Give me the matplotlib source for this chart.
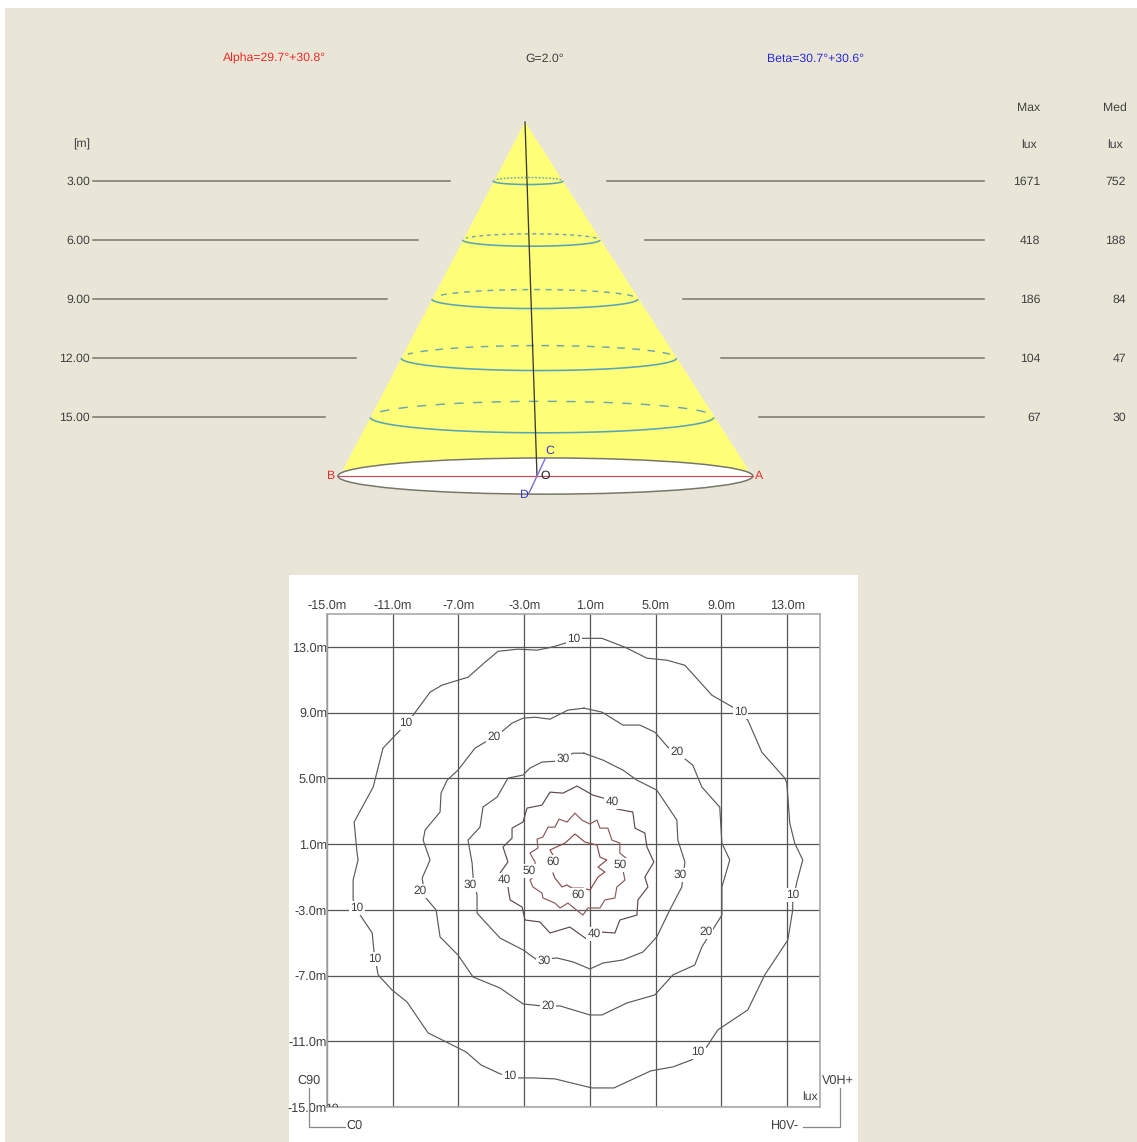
import numpy as np
import matplotlib
matplotlib.use("Agg")
import matplotlib.pyplot as plt
from matplotlib.patches import Rectangle, Polygon, Ellipse

plt.rcParams['font.family'] = ['Liberation Sans', 'DejaVu Sans']
plt.rcParams['text.hinting'] = 'no_hinting'

W, H = 1137, 1142
BG = '#e9e6d7'
TXT = '#404040'

# ---------- cone data (metres) ----------
distances = [3, 6, 9, 12, 15]
max_lux = [1671, 418, 186, 104, 67]
med_lux = [752, 188, 84, 47, 30]
cone_left = [-1.63, -3.17, -4.74, -6.30, -7.88]
cone_right = [1.93, 3.81, 5.74, 7.71, 9.61]
ring_depth = [0.178, 0.315, 0.483, 0.635, 0.80]
base_distance = 18.0
base_left = -9.51
base_right = 11.58
base_depth = 0.92
axis_foot = 0.61
title_alpha = 'Alpha=29.7°+30.8°'
title_g = 'G=2.0°'
title_beta = 'Beta=30.7°+30.6°'

# ---------- isolux data (metres) ----------
grid_ticks = [-15, -11, -7, -3, 1, 5, 9, 13]
x_tick_labels = ['-15.0m', '-11.0m', '-7.0m', '-3.0m', '1.0m', '5.0m', '9.0m', '13.0m']
y_tick_labels = x_tick_labels

c10_x = [-1.31, -2.22, -3.38, -4.59, -5.38, -6.42, -7.03, -8.0, -8.73, -9.76, -10.55, -11.59, -12.19, -13.35,
         -13.17, -13.11, -13.41, -13.41, -12.98, -12.25, -12.13, -11.89, -11.04, -10.13, -8.85, -7.03, -6.54,
         -5.63, -4.47, -3.50, -2.47, -1.13, 1.12, 2.46, 4.71, 6.05, 7.20, 8.11, 8.78, 10.61, 11.64, 13.04, 13.34,
         13.34, 13.59, 13.95, 13.46, 13.16, 12.98, 12.86, 11.46, 10.61, 9.69, 8.42, 6.78, 5.68, 4.47, 3.13, 1.73,
         0.70, 0.21, -0.34, -1.31]
c10_y = [12.98, 12.80, 12.86, 12.73, 12.07, 11.15, 10.97, 10.67, 10.24, 8.84, 7.93, 6.84, 4.47, 2.34,
         0.45, 0.03, -1.19, -2.40, -3.32, -4.41, -5.63, -6.96, -7.88, -8.61, -10.49, -11.40, -11.65,
         -12.44, -12.98, -13.23, -13.23, -13.29, -13.84, -13.84, -12.80, -12.56, -12.13, -11.34, -10.31, -9.09,
         -6.96, -4.84, -3.01, -2.53, -1.31, 0.03, 1.06, 2.28, 4.71, 5.01, 6.59, 8.54, 9.33, 10.06, 11.88, 12.19,
         12.31, 12.98, 13.52, 13.52, 13.52, 13.28, 12.98]
c20_x = [0.64, -0.34, -1.43, -2.34, -3.07, -3.74, -4.47, -5.38, -5.99, -7.03, -7.69, -8.06, -8.12, -9.03, -9.15,
         -8.73, -9.21, -9.03, -8.36, -8.12, -7.03, -6.11, -4.47, -3.07, -1.92, -0.82, 1.00, 1.73, 3.25, 4.95,
         6.05, 7.38, 7.81, 9.03, 9.03, 9.51, 9.03, 8.90, 7.81, 7.26, 6.65, 5.74, 4.95, 4.04, 3.01, 1.73, 0.64]
c20_y = [9.27, 9.15, 8.60, 8.72, 8.66, 8.36, 7.75, 7.20, 6.84, 5.50, 4.89, 4.10, 2.95, 1.85, 1.24,
         0.03, -1.07, -2.22, -3.01, -4.65, -5.75, -7.09, -7.76, -8.73, -8.85, -8.85, -9.40, -9.40, -8.67, -8.18,
         -6.96, -6.36, -5.26, -3.32, -1.61, 0.03, 1.06, 3.25, 4.47, 5.80, 6.29, 6.90, 7.81, 8.24, 8.24, 9.03, 9.27]
c30_x = [0.64, -0.03, -0.95, -1.92, -2.65, -3.07, -3.99, -4.65, -5.51, -5.69, -6.42, -6.17, -6.11, -5.87, -5.87,
         -4.47, -3.07, -2.22, -1.01, -0.03, 1.00, 1.79, 3.01, 4.22, 5.07, 5.86, 6.59, 6.78, 6.35, 6.29, 5.07,
         3.86, 3.01, 1.79, 0.64]
c30_y = [6.53, 6.53, 6.05, 5.99, 5.62, 5.20, 5.01, 3.86, 3.25, 2.03, 1.24, -0.16, -1.01, -2.10, -3.20,
         -4.72, -5.44, -6.05, -5.93, -6.17, -6.60, -6.24, -6.05, -5.57, -4.65, -3.01, -1.61, -0.09, 1.24, 2.46,
         4.28, 4.89, 5.50, 6.11, 6.53]
c40_x = [2.03, 1.18, 0.21, -0.64, -1.43, -1.92, -2.83, -3.07, -3.74, -3.74, -4.29, -3.99, -4.47, -3.99, -3.86,
         -3.13, -2.95, -2.04, -1.43, -0.22, 0.88, 1.61, 2.52, 2.82, 3.86, 3.92, 4.53, 4.34, 4.89, 4.47, 4.34,
         3.74, 3.61, 2.64, 2.03]
c40_y = [3.74, 3.98, 4.53, 4.10, 4.16, 3.37, 3.19, 2.34, 1.97, 1.36, 0.82, -0.09, -0.76, -1.61, -2.40,
         -2.83, -3.62, -3.74, -4.41, -4.05, -4.84, -4.35, -4.41, -3.62, -3.32, -2.40, -1.61, -1.01, -0.09, 0.82,
         1.67, 1.97, 2.95, 3.13, 3.74]
c50_x = [3.19, 2.82, 2.82, 2.34, 2.09, 1.61, 1.43, 1.00, 0.51, 0.09, -0.40, -0.88, -1.13, -1.55, -1.86, -2.22,
         -2.16, -2.65, -2.34, -2.34, -2.65, -2.47, -1.92, -1.86, -1.13, -0.82, -0.34, 0.57, 0.88, 1.61, 1.91,
         2.52, 2.64, 3.13, 3.01]
c50_y = [0.15, 0.45, 1.06, 1.24, 1.97, 1.97, 2.46, 2.22, 2.46, 2.88, 2.34, 2.52, 2.03, 2.03, 1.43, 1.30,
         0.76, 0.45, -0.09, -0.88, -1.19, -1.61, -1.98, -2.28, -2.59, -2.89, -2.59, -3.32, -2.89, -2.89, -2.40,
         -2.28, -1.61, -1.19, -0.58]
c60_x = [-1.25, -1.43, -0.52, 0.09, 0.70, 1.43, 1.61, 2.03, 1.49, 1.91, 1.49, 1.12, 1.00, 0.57, -0.09, -0.40,
         -0.70, -1.13, -1.25]
c60_y = [0.33, 0.64, 1.06, 1.61, 1.12, 0.94, 0.21, 0.03, -0.40, -0.70, -1.01, -1.61, -1.80, -1.68, -1.68, -1.49,
         -1.61, -1.07, -0.76]

contours = [(c10_x, c10_y, '#5a5a5a'), (c20_x, c20_y, '#5a5a5a'), (c30_x, c30_y, '#5a5a5a'),
            (c40_x, c40_y, '#5a4a4a'), (c50_x, c50_y, '#8a5a5a'), (c60_x, c60_y, '#8a4a4a')]

label_text = ['10', '10', '10', '10', '10', '10', '10', '10', '20', '20', '20', '20', '20',
              '30', '30', '30', '30', '40', '40', '40', '50', '50', '60', '60']
label_x = [0.03, -10.19, 10.18, -13.17, -12.07, -3.86, 7.57, 13.34, -4.84, 6.29, -9.34, -1.55, 8.05,
           -0.64, -6.30, -1.80, 6.47, 2.34, -4.23, 1.24, -2.71, 2.82, -1.25, 0.27]
label_y = [13.52, 8.36, 9.03, -2.89, -5.99, -13.11, -11.65, -2.10, 7.51, 6.59, -1.86, -8.85, -4.35,
           6.17, -1.49, -6.11, -0.88, 3.55, -1.19, -4.47, -0.64, -0.28, -0.09, -2.10]

# ---------- figure ----------
fig = plt.figure(figsize=(W / 100, H / 100), dpi=100, facecolor='white')


def frac_box(x0, y0, x1, y1):
    return [x0 / W, 1 - y1 / H, (x1 - x0) / W, (y1 - y0) / H]


fig.patches.append(Rectangle((5 / W, 0), 1 - 5 / W, 1 - 8 / H, transform=fig.transFigure,
                             facecolor=BG, edgecolor='none', zorder=-10))
fig.patches.append(Rectangle((289 / W, 0), (858 - 289) / W, 1 - 575 / H, transform=fig.transFigure,
                             facecolor='white', edgecolor='none', zorder=-9))

# cone axes: whole figure, scaled in metres from the apex
SCALE = 19.67
AX0, AY0 = 525.0, 122.0
ax = fig.add_axes([0, 0, 1, 1], facecolor='none')
ax.set_xlim(-AX0 / SCALE, (W - AX0) / SCALE)
ax.set_ylim((H - AY0) / SCALE, -AY0 / SCALE)
ax.axis('off')


def px_x(p):
    return (p - AX0) / SCALE


def px_y(p):
    return (p - AY0) / SCALE


FS = 8.8
TEXT_DY = 0.04
# yellow cone body
ax.add_patch(Polygon([(0, 0), (base_left + 0.25, base_distance - 0.3), (base_right - 0.2, base_distance - 0.3)],
                     closed=True, facecolor='#ffff78', edgecolor='none', zorder=1))
# base ellipse
bc = (base_left + base_right) / 2
ax.add_patch(Ellipse((bc, base_distance), base_right - base_left, 2 * base_depth, facecolor='white',
                     edgecolor='#77776a', linewidth=1.1, zorder=2))
# rings
dash_on = [1.2, 2.6, 4.0, 5.2, 6.4]
for d, l, r, b, on in zip(distances, cone_left, cone_right, ring_depth, dash_on):
    cx, a = (l + r) / 2, (r - l) / 2
    t = np.radians(np.linspace(3, 177, 120))
    ax.plot(cx + a * np.cos(t), d + b * np.sin(t), color='#5aa5b5', lw=1.15, zorder=3, solid_capstyle='round')
    t = np.radians(np.linspace(18, 162, 160))
    ax.plot(cx + a * np.cos(t), d - b * np.sin(t), color='#6aa7b5', lw=1.05, zorder=3,
            dashes=(on, on * 1.0))
# axis
ax.plot([0, axis_foot], [0, base_distance], color='#3a3a30', lw=0.95, zorder=4)
# A-B line and C-D line
ax.plot([base_left, base_right], [base_distance, base_distance], color='#c8505a', lw=0.9, zorder=4)
ax.plot([px_x(545.5), px_x(529)], [px_y(458), px_y(493)], color='#7a70d8', lw=1.0, zorder=4)
ax.text(px_x(549.5), px_y(450.5), 'C', color='#3a3ad0', fontsize=FS, ha='center', va='center', zorder=5)
ax.text(px_x(524), px_y(494.5), 'D', color='#3a3ad0', fontsize=FS, ha='center', va='center', zorder=5)
ax.text(px_x(545), px_y(476), 'O', color='#222222', fontsize=FS, ha='center', va='center', zorder=5)
ax.text(px_x(759), px_y(476), 'A', color='#e03030', fontsize=FS, ha='center', va='center', zorder=5)
ax.text(px_x(331), px_y(476), 'B', color='#e03030', fontsize=FS, ha='center', va='center', zorder=5)

# leader lines and columns
left_ends = [449.5, 418, 387, 356, 325]
right_starts = [607, 645, 683, 721, 759]
for d, mx, md, le, rs in zip(distances, max_lux, med_lux, left_ends, right_starts):
    ax.plot([px_x(93), px_x(le)], [d, d], color='#77776a', lw=1.1, zorder=1)
    ax.plot([px_x(rs), px_x(984)], [d, d], color='#77776a', lw=1.1, zorder=1)
    ax.text(px_x(90), d + TEXT_DY, f'{d:.2f}', color=TXT, fontsize=FS, ha='right', va='center')
    ax.text(px_x(1040.5), d + TEXT_DY, str(mx), color=TXT, fontsize=FS, ha='right', va='center')
    ax.text(px_x(1126), d + TEXT_DY, str(md), color=TXT, fontsize=FS, ha='right', va='center')
ax.text(px_x(82), px_y(144.5), '[m]', color=TXT, fontsize=FS, ha='center', va='center')
ax.text(px_x(1029), px_y(108), 'Max', color=TXT, fontsize=FS, ha='center', va='center')
ax.text(px_x(1029), px_y(144.5), 'lux', color=TXT, fontsize=FS, ha='center', va='center')
ax.text(px_x(1115), px_y(108), 'Med', color=TXT, fontsize=FS, ha='center', va='center')
ax.text(px_x(1115), px_y(144.5), 'lux', color=TXT, fontsize=FS, ha='center', va='center')
ax.text(px_x(275), px_y(58.5), title_alpha, color='#ee2a2a', fontsize=FS, ha='center', va='center')
ax.text(px_x(545), px_y(58.5), title_g, color=TXT, fontsize=FS, ha='center', va='center')
ax.text(px_x(816), px_y(58.5), title_beta, color='#2a2ae0', fontsize=FS, ha='center', va='center')

# isolux axes
ax2 = fig.add_axes(frac_box(327, 614, 820, 1107), facecolor='white')
ax2.set_xlim(-15, 15)
ax2.set_ylim(-15, 15)
ax2.xaxis.tick_top()
ax2.set_xticks(grid_ticks, x_tick_labels)
ax2.set_yticks(grid_ticks, y_tick_labels)
ax2.tick_params(length=0, labelsize=9.1, labelcolor=TXT, pad=1.5)
ax2.tick_params(axis='y', pad=0)
ax2.grid(True, color='#555555', lw=0.9, zorder=1)
ax2.set_axisbelow(True)
for s in ax2.spines.values():
    s.set_color('#a8a8a8')
    s.set_linewidth(1.2)
for cx_, cy_, col in contours:
    ax2.plot(cx_, cy_, color=col, lw=0.85, zorder=2, solid_joinstyle='round')
for s, x, y in zip(label_text, label_x, label_y):
    ax2.text(x, y, s, color=TXT, fontsize=8.6, ha='center', va='center', zorder=3,
             bbox=dict(facecolor='white', edgecolor='none', pad=0.8))
ax2.text(-14.7, -15.12, '10', color=TXT, fontsize=FS, ha='center', va='center', clip_on=True, zorder=3)
ax2.text(14.85, -14.7, 'lux', color=TXT, fontsize=FS, ha='right', va='bottom', zorder=3,
         bbox=dict(facecolor='white', edgecolor='none', pad=0.5))

# corner annotations, over the white panel
ax.set_zorder(ax2.get_zorder() + 1)
for xs, ys in [((308.5, 308.5, 345), (1088, 1127, 1127)), ((840, 840, 803), (1088, 1127, 1127))]:
    ax.plot([px_x(v) for v in xs], [px_y(v) for v in ys], color='#888888', lw=0.9, zorder=2)
ax.text(px_x(308.5), px_y(1081), 'C90', color=TXT, fontsize=9.1, ha='center', va='center')
ax.text(px_x(354), px_y(1126), 'C0', color=TXT, fontsize=9.1, ha='center', va='center')
ax.text(px_x(838), px_y(1081), 'V0H+', color=TXT, fontsize=9.1, ha='center', va='center')
ax.text(px_x(785), px_y(1126), 'H0V-', color=TXT, fontsize=9.1, ha='center', va='center')

fig.savefig('out.png', dpi=100, facecolor='white')
